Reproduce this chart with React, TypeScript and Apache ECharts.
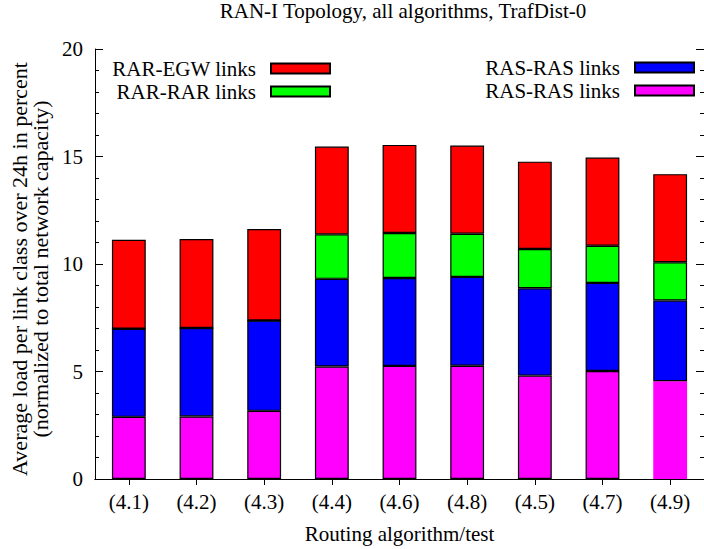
import React, { useEffect, useRef } from "react";
import * as echarts from "echarts";

const categories = ["(4.1)", "(4.2)", "(4.3)", "(4.4)", "(4.6)", "(4.8)", "(4.5)", "(4.7)", "(4.9)"];
const rasMagenta = [2.89, 2.91, 3.17, 5.23, 5.26, 5.27, 4.81, 5.02, 4.55];
const rasBlue = [4.1, 4.11, 4.2, 4.08, 4.09, 4.13, 4.06, 4.1, 3.75];
const rarGreen = [0, 0, 0, 2.07, 2.09, 2.01, 1.83, 1.73, 1.78];
const rarEgwRed = [4.14, 4.14, 4.26, 4.08, 4.1, 4.1, 4.06, 4.1, 4.1];
const yTicks = { min: 0, max: 20, interval: 5 };

const FONT = "'Liberation Serif', 'Times New Roman', serif";
const FS = 21;

export default function App() {
  const ref = useRef<HTMLDivElement>(null);
  useEffect(() => {
    if (!ref.current) return;
    const chart = echarts.init(ref.current, null, { renderer: "svg" });
    const border = { borderColor: "#000", borderWidth: 1.2 };
    const mkSeries = (name: string, color: string, data: any[]) => ({
      name,
      type: "bar",
      stack: "total",
      barWidth: "50%",
      itemStyle: { color, ...border },
      data,
    });
    const magentaData = rasMagenta.map((v, i) =>
      i === rasMagenta.length - 1 ? { value: v, itemStyle: { borderWidth: 0 } } : v
    );
    const legendCommon = {
      orient: "vertical",
      align: "right",
      icon: "rect",
      itemWidth: 59,
      itemHeight: 10,
      itemGap: 2,
      padding: 0,
      selectedMode: false,
      textStyle: { fontFamily: FONT, fontSize: FS, lineHeight: 19, color: "#000", padding: [0, 10, 0, 0] },
      formatter: (n: string) => n.replace(" (2)", ""),
    };
    chart.setOption({
      animation: false,
      backgroundColor: "#fff",
      title: {
        text: "RAN-I Topology, all algorithms, TrafDist-0",
        left: 403,
        textAlign: "center",
        top: 0,
        padding: 0,
        textStyle: { fontFamily: FONT, fontSize: FS, fontWeight: "normal", color: "#000" },
      },
      legend: [
        { ...legendCommon, data: ["RAR-EGW links", "RAR-RAR links"], right: 373, top: 58 },
        { ...legendCommon, data: ["RAS-RAS links", "RAS-RAS links (2)"], right: 9, top: 57 },
      ],
      grid: { left: 95, top: 49, width: 616, height: 431 },
      xAxis: [
        {
          type: "category",
          data: categories,
          axisLine: { lineStyle: { color: "#000", width: 1 } },
          axisTick: { show: false },
          axisLabel: { fontFamily: FONT, fontSize: FS, color: "#000", margin: 12 },
          name: "Routing algorithm/test",
          nameLocation: "middle",
          nameGap: 44,
          nameTextStyle: { fontFamily: FONT, fontSize: FS, color: "#000" },
        },
        {
          type: "category",
          data: categories,
          position: "top",
          axisLine: { lineStyle: { color: "#000", width: 1 } },
          axisTick: { show: true, inside: true, alignWithLabel: true, length: 6, lineStyle: { color: "#000" } },
          axisLabel: { show: false },
        },
      ],
      yAxis: [
        {
          type: "value",
          ...yTicks,
          axisLine: { show: true, lineStyle: { color: "#000", width: 1 } },
          axisTick: { show: true, inside: true, length: 8, lineStyle: { color: "#000" } },
          minorTick: { show: true, splitNumber: 5, length: 4, lineStyle: { color: "#000" } },
          splitLine: { show: false },
          axisLabel: { fontFamily: FONT, fontSize: FS, color: "#000", margin: 12 },
          name: "Average load per link class over 24h in percent\n(normalized to total network capacity)",
          nameLocation: "middle",
          nameGap: 30,
          nameTextStyle: { fontFamily: FONT, fontSize: 22, color: "#000", lineHeight: 21, padding: [0, 10, 0, 0] },
        },
        {
          type: "value",
          ...yTicks,
          position: "right",
          axisLine: { show: true, lineStyle: { color: "#000", width: 1 } },
          axisTick: { show: true, inside: true, length: 8, lineStyle: { color: "#000" } },
          minorTick: { show: true, splitNumber: 5, length: 4, lineStyle: { color: "#000" } },
          splitLine: { show: false },
          axisLabel: { show: false },
        },
      ],
      series: [
        mkSeries("RAS-RAS links (2)", "#ff00ff", magentaData),
        mkSeries("RAS-RAS links", "#0000ff", rasBlue),
        mkSeries("RAR-RAR links", "#00ff00", rarGreen),
        mkSeries("RAR-EGW links", "#ff0000", rarEgwRed),
      ],
    });
    return () => chart.dispose();
  }, []);
  return (
    <div
      ref={ref}
      style={{ position: "absolute", left: 0, top: 0, width: 704, height: 549, overflow: "hidden" }}
    />
  );
}
